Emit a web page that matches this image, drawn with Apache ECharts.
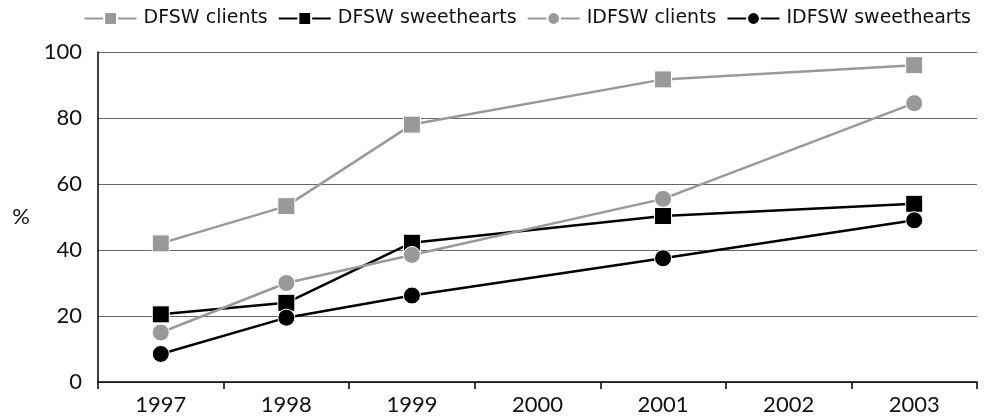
<!DOCTYPE html>
<html>
<head>
<meta charset="utf-8">
<script src="https://cdn.jsdelivr.net/npm/echarts@6/dist/echarts.min.js"></script>
<style>
  html, body { margin: 0; padding: 0; background: #fff; }
  #main { width: 988px; height: 418px; }
</style>
</head>
<body>
<div id="main"></div>
<script>
var years = ['1997', '1998', '1999', '2000', '2001', '2002', '2003'];
// null = no survey that year
var dfswClients = [42, 53.3, 78, null, 91.7, null, 96];
var dfswSweethearts = [20.5, 24, 42.2, null, 50.3, null, 54];
var idfswClients = [15, 30, 38.5, null, 55.5, null, 84.5];
var idfswSweethearts = [8.5, 19.5, 26.2, null, 37.5, null, 49];

var grey = '#999999';
var black = '#000000';

function line(name, data, color, symbol) {
  return {
    name: name,
    type: 'line',
    data: data,
    connectNulls: true,
    symbol: symbol,
    symbolSize: 17,
    lineStyle: { color: color, width: 2.5 },
    itemStyle: { color: color, borderColor: '#fff', borderWidth: 1 },
    emphasis: { disabled: true }
  };
}

var myChart = echarts.init(document.getElementById('main'));
var option = {
  animation: false,
  textStyle: { fontFamily: 'Lato, "Noto Sans", sans-serif' },
  legend: {
    top: 4,
    right: 12,
    itemGap: 10,
    itemWidth: 52,
    itemHeight: 16,
    textStyle: { fontSize: 19, color: '#111', fontFamily: '"DejaVu Sans", sans-serif', padding: [0, 0, 0, 2] },
    data: ['DFSW clients', 'DFSW sweethearts', 'IDFSW clients', 'IDFSW sweethearts']
  },
  grid: { left: 98, right: 11, top: 52, bottom: 36 },
  xAxis: {
    type: 'category',
    data: years,
    boundaryGap: true,
    axisLine: { lineStyle: { color: black, width: 1.5 } },
    axisTick: { show: true, length: 7, lineStyle: { color: black, width: 1.5 } },
    axisLabel: { fontSize: 22, color: '#111', margin: 12 },
    splitLine: { show: false }
  },
  yAxis: {
    type: 'value',
    min: 0,
    max: 100,
    interval: 20,
    name: '%',
    nameLocation: 'middle',
    nameRotate: 0,
    nameGap: 68,
    nameTextStyle: { fontSize: 22, color: '#111' },
    axisLine: { show: true, lineStyle: { color: black, width: 1.5 } },
    axisTick: { show: false },
    axisLabel: { fontSize: 22, color: '#111', margin: 16 },
    splitLine: { lineStyle: { color: '#666', width: 1.2 } }
  },
  series: [
    line('DFSW clients', dfswClients, grey, 'rect'),
    line('DFSW sweethearts', dfswSweethearts, black, 'rect'),
    line('IDFSW clients', idfswClients, grey, 'circle'),
    line('IDFSW sweethearts', idfswSweethearts, black, 'circle')
  ]
};
myChart.setOption(option);
</script>
</body>
</html>
